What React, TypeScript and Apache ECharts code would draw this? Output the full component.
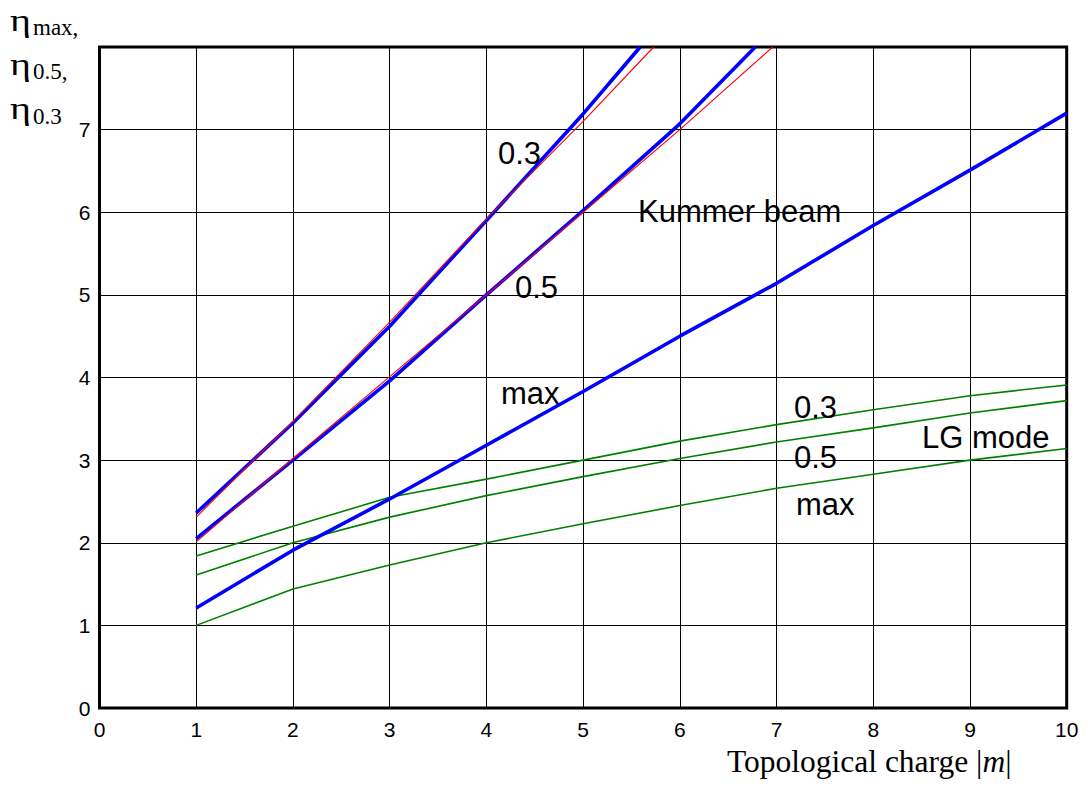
import React, { useEffect, useRef } from "react";
import * as echarts from "echarts";

// Topological charge |m| for the LG-mode curves
const mValues = [1, 2, 3, 4, 5, 6, 7, 8, 9, 10];

// LG mode efficiencies
const lg03 = [1.84, 2.2, 2.55, 2.77, 3.0, 3.23, 3.43, 3.61, 3.78, 3.91];
const lg05 = [1.61, 2.0, 2.31, 2.57, 2.8, 3.02, 3.22, 3.39, 3.57, 3.72];
const lgMax = [1.0, 1.44, 1.73, 2.0, 2.23, 2.45, 2.66, 2.83, 3.0, 3.14];

// Kummer beam, [m, eta] pairs (last pair: where the curve leaves the top of the plot)
const kummer03Blue = [[1, 2.36], [2, 3.45], [3, 4.62], [4, 5.9], [5, 7.19], [5.59, 8]];
const kummer03Red = [[1, 2.31], [2, 3.47], [3, 4.67], [4, 5.92], [5, 7.1], [5.73, 8]];
const kummer05Blue = [[1, 2.05], [2, 3.0], [3, 3.96], [4, 5.0], [5, 6.02], [6, 7.07], [6.78, 8]];
const kummer05Red = [[1, 2.01], [2, 3.02], [3, 4.01], [4, 5.0], [5, 6.0], [6, 7.0], [6.96, 8]];
const kummerMax = [1.21, 1.91, 2.53, 3.18, 3.83, 4.5, 5.14, 5.84, 6.51, 7.2];

const xTicks = [0, 1, 2, 3, 4, 5, 6, 7, 8, 9, 10];
const yTickLabels = ["0", "1", "2", "3", "4", "5", "6", "7"];

const SANS = "Liberation Sans, Arial, sans-serif";
const SERIF = "Liberation Serif, Times New Roman, serif";

export default function App() {
  const ref = useRef<HTMLDivElement>(null);

  useEffect(() => {
    if (!ref.current) return;
    const chart = echarts.init(ref.current, undefined, { renderer: "svg" });

    const pair = (ys: number[]) => ys.map((y, i) => [mValues[i], y]);

    const line = (name: string, data: number[][], color: string, width: number, z: number) => ({
      name,
      type: "line",
      data,
      showSymbol: false,
      symbol: "none",
      clip: true,
      z,
      lineStyle: { color, width },
    });

    const label = (text: string, x: number, y: number) => ({
      type: "text",
      left: x,
      top: y,
      style: {
        text,
        font: `31px ${SANS}`,
        fill: "#000",
      },
      z: 100,
    });

    const eta = (x: number, y: number) => ({
      type: "text",
      x,
      y,
      scaleX: 1.25,
      style: { text: "η", font: `32px ${SERIF}`, fill: "#000", verticalAlign: "middle", align: "left" },
    });
    const sub = (text: string, x: number, y: number) => ({
      type: "text",
      x,
      y,
      style: { text, font: `23px ${SERIF}`, fill: "#000", verticalAlign: "middle", align: "left" },
    });

    chart.setOption({
      animation: false,
      backgroundColor: "#fff",
      textStyle: { fontFamily: SANS },
      grid: {
        left: 99.5,
        right: 21.3,
        top: 47,
        bottom: 84,
        show: true,
        borderColor: "#000",
        borderWidth: 3,
        backgroundColor: "transparent",
      },
      xAxis: {
        type: "value",
        min: 0,
        max: 10,
        interval: 1,
        axisLine: { show: false },
        axisTick: { show: false },
        splitLine: { show: true, lineStyle: { color: "#000", width: 1 } },
        axisLabel: {
          margin: 11,
          fontSize: 21,
          color: "#000",
          fontFamily: SANS,
          formatter: (v: number) => (xTicks.includes(v) ? String(v) : ""),
        },
      },
      yAxis: {
        type: "value",
        min: 0,
        max: 8,
        interval: 1,
        axisLine: { show: false },
        axisTick: { show: false },
        splitLine: { show: true, lineStyle: { color: "#000", width: 1 } },
        axisLabel: {
          margin: 9,
          fontSize: 21,
          color: "#000",
          fontFamily: SANS,
          formatter: (v: number) => yTickLabels[v] ?? "",
        },
      },
      series: [
        line("LG 0.3", pair(lg03), "#008000", 1.6, 2),
        line("LG 0.5", pair(lg05), "#008000", 1.6, 2),
        line("LG max", pair(lgMax), "#008000", 1.6, 2),
        line("Kummer 0.3", kummer03Blue, "#0000ff", 3.6, 3),
        line("Kummer 0.5", kummer05Blue, "#0000ff", 3.6, 3),
        line("Kummer max", pair(kummerMax), "#0000ff", 3.6, 3),
        line("Kummer 0.3 approx", kummer03Red, "#ff0000", 1.1, 4),
        line("Kummer 0.5 approx", kummer05Red, "#ff0000", 1.1, 4),
      ],
      graphic: [
        eta(10, 20),
        sub("max,", 33, 27),
        eta(10, 64),
        sub("0.5,", 33, 71),
        eta(10, 108),
        sub("0.3", 33, 116),
        {
          type: "text",
          x: 727,
          y: 761,
          style: {
            text: "{a|Topological charge |}{i|m}{a||}",
            verticalAlign: "middle",
            align: "left",
            rich: {
              a: { font: `31.5px ${SERIF}`, fill: "#000" },
              i: { font: `italic 31.5px ${SERIF}`, fill: "#000" },
            },
          },
        },
        label("0.3", 498, 138),
        label("Kummer beam", 638, 196),
        label("0.5", 515, 272),
        label("max", 501, 378),
        label("0.3", 794, 392),
        label("LG mode", 922, 422),
        label("0.5", 794, 442),
        label("max", 796, 489),
      ],
    });

    return () => chart.dispose();
  }, []);

  return (
    <div
      ref={ref}
      style={{ position: "fixed", left: 0, top: 0, width: 1088, height: 792, background: "#fff" }}
    />
  );
}
